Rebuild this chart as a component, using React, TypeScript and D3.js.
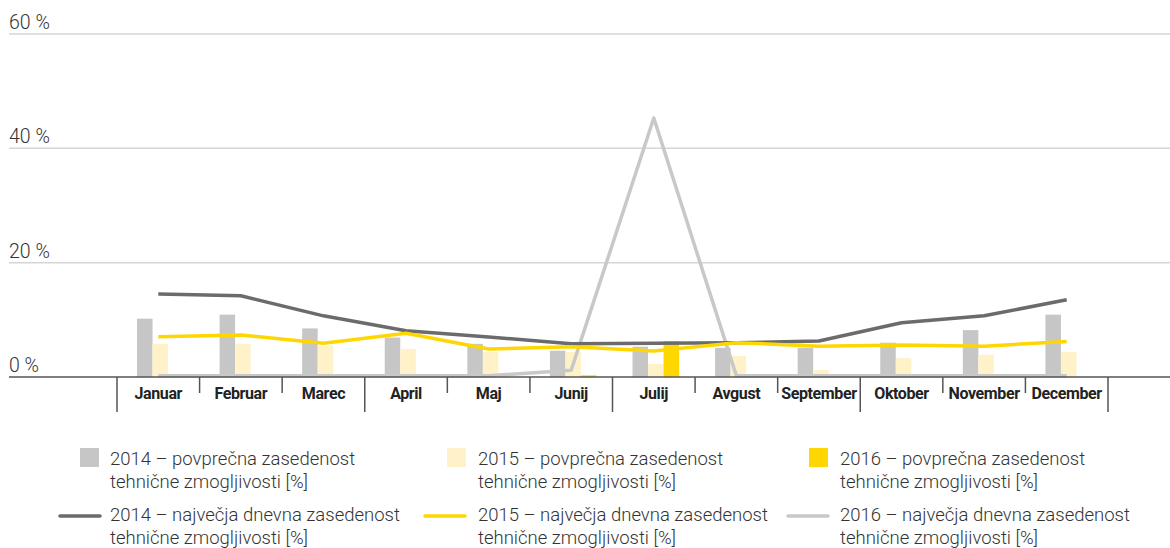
import React, { useRef, useEffect } from "react";
import * as d3 from "d3";

const months = ["Januar", "Februar", "Marec", "April", "Maj", "Junij", "Julij", "Avgust", "September", "Oktober", "November", "December"];
const years = ["2014", "2015", "2016"];

// povprečna zasedenost (bars)
const avg2014 = [10.2, 10.9, 8.5, 6.9, 5.8, 4.6, 5.3, 5.1, 5.1, 6.0, 8.2, 10.9];
const avg2015 = [5.8, 5.8, 5.5, 4.9, 4.4, 4.4, 2.3, 3.7, 1.2, 3.3, 3.9, 4.4];
const avg2016 = [0, 0, 0, 0, 0, 0.3, 6.3, 0, 0, 0, 0, 0];

// največja dnevna zasedenost (lines)
const max2014 = [14.5, 14.2, 10.7, 8.1, 7.0, 5.8, 5.9, 6.0, 6.3, 9.5, 10.7, 13.5];
const max2015 = [7.05, 7.35, 5.9, 7.65, 4.9, 5.3, 4.55, 6.0, 5.4, 5.6, 5.4, 6.2];
const max2016 = [0.2, 0.2, 0.2, 0.2, 0.2, 1.2, 45.3, 0.2, 0.2, 0.2, 0.2, 0.2];

const yTicks = [0, 20, 40, 60];
const quarterStarts = ["Januar", "April", "Julij", "Oktober"];

const barColors = ["#c6c6c6", "#fff2c8", "#ffd700"];
const lineColors = ["#6b6b6b", "#ffd700", "#c8c8c8"];

const legendItems = [
  { type: "bar", color: barColors[0], label: "2014 – povprečna zasedenost", col: 0, row: 0 },
  { type: "bar", color: barColors[1], label: "2015 – povprečna zasedenost", col: 1, row: 0 },
  { type: "bar", color: barColors[2], label: "2016 – povprečna zasedenost", col: 2, row: 0 },
  { type: "line", color: lineColors[0], label: "2014 – največja dnevna zasedenost", col: 0, row: 1 },
  { type: "line", color: lineColors[1], label: "2015 – največja dnevna zasedenost", col: 1, row: 1 },
  { type: "line", color: lineColors[2], label: "2016 – največja dnevna zasedenost", col: 2, row: 1 },
];

const App = () => {
  const canvas = useRef<SVGSVGElement>(null);

  const width = 1170;
  const height = 548;
  const font = "Roboto, 'Open Sans', sans-serif";

  useEffect(() => {
    const svg = d3.select(canvas.current);
    svg.selectAll("*").remove();

    const xScale = d3.scaleBand<string>().domain(months).range([117, 1108]).paddingInner(0);
    const yScale = d3.scaleLinear().domain([0, 60]).range([377, 34]);
    const sub = d3.scaleBand<string>().domain(years).range([0, xScale.bandwidth()]).paddingInner(0).paddingOuter(1.16);

    // gridlines + y labels
    const grid = svg.append("g");
    yTicks.forEach((t) => {
      if (t > 0) {
        grid.append("line")
          .attr("x1", 9).attr("x2", width)
          .attr("y1", yScale(t)).attr("y2", yScale(t))
          .attr("stroke", "#d6d6d6").attr("stroke-width", 1.5);
      }
      grid.append("text")
        .attr("x", 9).attr("y", yScale(t) - 5)
        .attr("font-family", font).attr("font-weight", 300).attr("font-size", 19.5)
        .attr("fill", "#333")
        .text(t + " %");
    });

    // bars
    const barData = [avg2014, avg2015, avg2016];
    const bars = svg.append("g");
    barData.forEach((series, si) => {
      bars.selectAll(null)
        .data(series)
        .enter().append("rect")
        .attr("x", (d, i) => (xScale(months[i]) as number) + (sub(years[si]) as number) + 2)
        .attr("y", (d) => yScale(d))
        .attr("width", sub.bandwidth())
        .attr("height", (d) => yScale(0) - yScale(d))
        .attr("fill", barColors[si]);
    });

    // lines
    const lineData = [max2014, max2015, max2016];
    const line = d3.line<number>()
      .x((d, i) => (xScale(months[i]) as number) + xScale.bandwidth() / 2)
      .y((d) => yScale(d));
    [2, 0, 1].forEach((si) => {
      svg.append("path")
        .datum(lineData[si])
        .attr("d", line)
        .attr("fill", "none")
        .attr("stroke", lineColors[si])
        .attr("stroke-width", 3.5)
        .attr("stroke-linejoin", "round");
    });

    // x axis
    const axis = svg.append("g");
    axis.append("line")
      .attr("x1", 9).attr("x2", width)
      .attr("y1", yScale(0)).attr("y2", yScale(0))
      .attr("stroke", "#555").attr("stroke-width", 1.5);
    const tickPos = months.map((m) => xScale(m) as number).concat([xScale.range()[1]]);
    tickPos.forEach((x, i) => {
      const long = i === months.length || quarterStarts.indexOf(months[i]) >= 0;
      axis.append("line")
        .attr("x1", x).attr("x2", x)
        .attr("y1", yScale(0)).attr("y2", long ? 412 : 393)
        .attr("stroke", "#555").attr("stroke-width", 1.5);
    });
    axis.selectAll(null)
      .data(months)
      .enter().append("text")
      .attr("x", (d) => (xScale(d) as number) + xScale.bandwidth() / 2)
      .attr("y", 399)
      .attr("text-anchor", "middle")
      .attr("font-family", font).attr("font-weight", 700).attr("font-size", 16)
      .attr("letter-spacing", -0.4)
      .attr("fill", "#222")
      .text((d) => d);

    // legend
    const colX = [
      { sym: 80, line: 60, text: 110 },
      { sym: 447, line: 425, text: 478 },
      { sym: 809, line: 788, text: 840 },
    ];
    const rowY = [465, 521];
    const lg = svg.append("g");
    legendItems.forEach((it) => {
      const c = colX[it.col];
      const y = rowY[it.row];
      if (it.type === "bar") {
        lg.append("rect").attr("x", c.sym).attr("y", y - 17).attr("width", 19).attr("height", 19).attr("fill", it.color);
      } else {
        lg.append("line").attr("x1", c.line).attr("x2", c.line + 40).attr("y1", y - 5).attr("y2", y - 5)
          .attr("stroke", it.color).attr("stroke-width", 3.5).attr("stroke-linecap", "round");
      }
      const t = lg.append("text")
        .attr("x", c.text).attr("y", y)
        .attr("font-family", font).attr("font-weight", 300).attr("font-size", 18.5)
        .attr("fill", "#333");
      t.append("tspan").attr("x", c.text).attr("y", y).text(it.label);
      t.append("tspan").attr("x", c.text).attr("y", y + 23).text("tehnične zmogljivosti [%]");
    });
  }, []);

  return (
    <svg ref={canvas} width={width} height={height}
      style={{ position: "absolute", left: 0, top: 0, background: "#fff" }} />
  );
};

export default App;
